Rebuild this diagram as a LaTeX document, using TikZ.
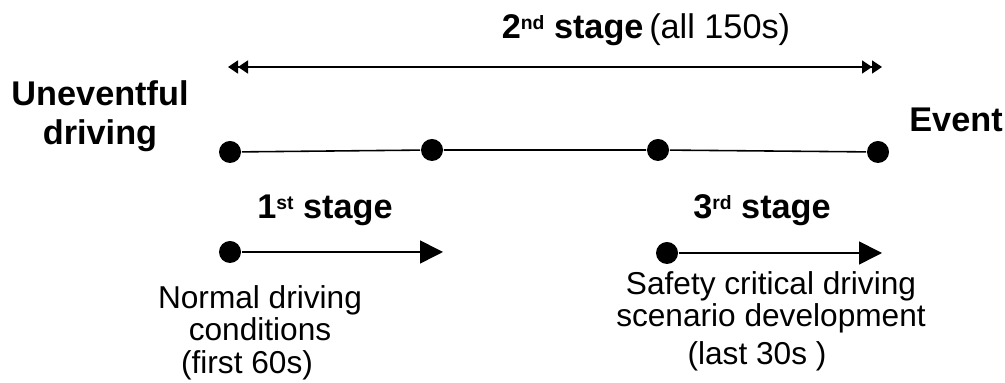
\documentclass[tikz,border=0pt]{standalone}
\usepackage{fontspec}
\setmainfont{Liberation Sans}
\usepackage{tikz}
\usetikzlibrary{arrows.meta}

\newcommand{\ordsup}[1]{\raisebox{0.5ex}{\fontsize{11}{11}\selectfont #1}}

\tikzset{
  dot/.style={shape=circle,fill=black,inner sep=0pt,minimum size=0.44cm},
  bigtxt/.style={font=\bfseries\fontsize{19.5}{22}\selectfont},
  smalltxt/.style={font=\fontsize{18}{18}\selectfont,align=center},
  twohead/.style={{Triangle[length=2mm,width=2.6mm]Triangle[length=2mm,width=2.6mm]}-{Triangle[length=2mm,width=2.6mm]Triangle[length=2mm,width=2.6mm]}},
  onehead/.style={-{Triangle[length=0.46cm,width=0.46cm]}}
}

\begin{document}
\begin{tikzpicture}[line width=0.9pt]
\useasboundingbox (0,0) rectangle (20.1,7.66);
% overall span
\coordinate (l) at (4.56,6.32);
\coordinate (r) at (17.64,6.32);
\draw[twohead](l)--(r);
\node[bigtxt] (two) at (12.92,7.06) {2\ordsup{nd} stage\,{\mdseries(all 150s)}};
% time line
\node[dot] (d1) at (4.6,4.62) {};
\node[dot] (d2) at (8.64,4.66) {};
\node[dot] (d3) at (13.16,4.66) {};
\node[dot] (d4) at (17.56,4.62) {};
\draw (d1)--(d2)--(d3)--(d4);
\node[bigtxt,align=center] (start) at (2.0,5.33) {Uneventful\\driving};
\node[bigtxt] (event) at (19.12,5.26) {Event};
% first stage
\node[bigtxt] (one) at (6.5,3.46) {1\ordsup{st} stage};
\node[dot] (s1) at (4.6,2.62) {};
\coordinate (e1) at (8.86,2.62);
\draw[onehead](s1)--(e1);
\node[smalltxt] (normal) at (5.2,1.4) {Normal driving\\conditions};
\node[smalltxt] (first) at (4.94,0.36) {(first 60s)};
% third stage
\node[bigtxt] (three) at (15.24,3.46) {3\ordsup{rd} stage};
\node[dot] (s3) at (13.34,2.6) {};
\coordinate (e3) at (17.64,2.6);
\draw[onehead](s3)--(e3);
\node[smalltxt] (safety) at (15.42,1.61) {Safety critical driving\\scenario development};
\node[smalltxt] (last) at (15.14,0.54) {(last 30s )};
\end{tikzpicture}
\end{document}
